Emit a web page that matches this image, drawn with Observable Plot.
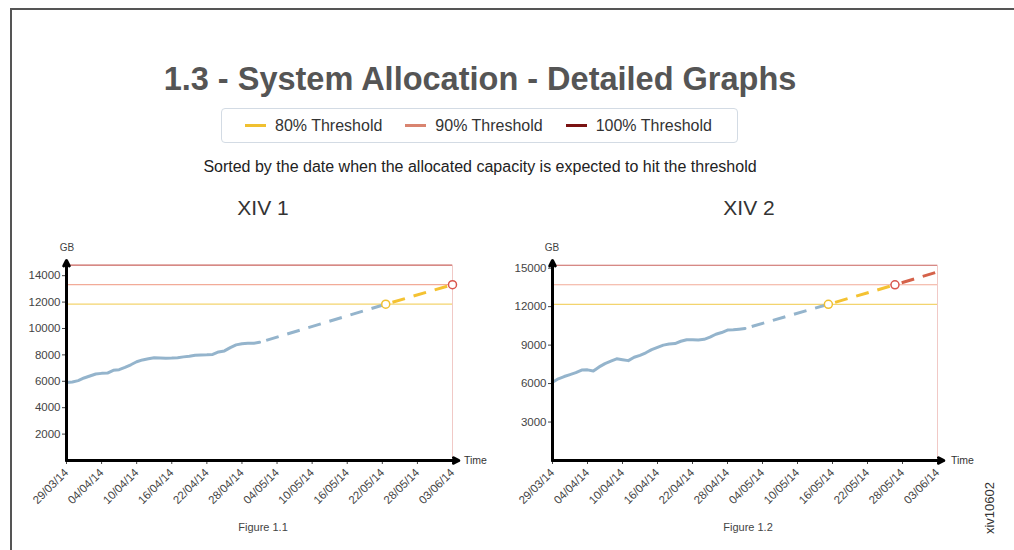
<!DOCTYPE html>
<html><head><meta charset="utf-8">
<script src="https://cdn.jsdelivr.net/npm/d3@7"></script>
<script src="https://cdn.jsdelivr.net/npm/@observablehq/plot@0.6"></script>
<style>
body{margin:0;background:#fff;font-family:"Liberation Sans",Arial,sans-serif;}
#page{position:relative;width:1014px;height:550px;overflow:hidden;background:#fff;}
.abs{position:absolute;white-space:nowrap;line-height:1;}
.c{transform:translateX(-50%);}
#frameTop{position:absolute;left:10px;top:8px;right:0;height:2px;background:#555;}
#frameLeft{position:absolute;left:10px;top:8px;bottom:0;width:2px;background:#555;}
#title{left:480px;top:63px;font-size:32.5px;font-weight:bold;color:#555;}
#legend{position:absolute;left:221px;top:108px;width:517px;height:35px;border:1px solid #d3dbe4;border-radius:4px;display:flex;align-items:center;padding-left:23px;box-sizing:border-box;gap:23px;}
.item{display:flex;align-items:center;font-size:16px;color:#333;}
.sw{width:21px;height:3px;margin-right:9px;}
#sub{left:480px;top:159px;font-size:16px;color:#222;}
.ct{font-size:21px;color:#333;top:197px;}
.fig{font-size:11px;color:#444;top:522px;}
.gb{font-size:10px;color:#444;top:243px;}
.time{font-size:10.5px;color:#333;top:455px;}
#code{left:989px;top:508px;font-size:13px;color:#333;transform:translate(-50%,-50%) rotate(-90deg);}
.chart{position:absolute;top:230px;}
</style></head><body>
<div id="page">
  <div id="frameTop"></div><div id="frameLeft"></div>
  <div id="title" class="abs c">1.3 - System Allocation - Detailed Graphs</div>
  <div id="legend"></div>
  <div id="sub" class="abs c">Sorted by the date when the allocated capacity is expected to hit the threshold</div>
  <div id="t1" class="abs c ct"></div>
  <div id="t2" class="abs c ct"></div>
  <div id="f1" class="abs c fig"></div>
  <div id="f2" class="abs c fig"></div>
  <div class="abs c gb" style="left:67px">GB</div>
  <div class="abs c gb" style="left:552px">GB</div>
  <div class="abs time" style="left:464px">Time</div>
  <div class="abs time" style="left:951px">Time</div>
  <div id="code" class="abs">xiv10602</div>
  <div id="chart1" class="chart" style="left:0px"></div>
  <div id="chart2" class="chart" style="left:490px"></div>
</div>
<script>
// ---------- data ----------
const chartTitles = ["XIV 1", "XIV 2"];
const figureLabels = ["Figure 1.1", "Figure 1.2"];
const thresholdLabels = ["80% Threshold", "90% Threshold", "100% Threshold"];
const thresholdShares = [0.8, 0.9, 1.0];
const legendColors = ["#f0c030", "#d98470", "#7a1212"];
const thresholdLineColors = ["#f3d46e", "#f2ab98", "#c9625c"];
const forecastColors = ["#94b4cc", "#f4c232", "#d5624a"];
const markerColors = ["#f0c030", "#d9574e"];
const tickLabels = ["29/03/14","04/04/14","10/04/14","16/04/14","22/04/14","28/04/14","04/05/14","10/05/14","16/05/14","22/05/14","28/05/14","03/06/14"];
const actualStart = "2014-03-29";

const xiv1Capacity = 14800;
const xiv1YTicks = [2000, 4000, 6000, 8000, 10000, 12000, 14000];
const xiv1YMax = 15150;
const xiv1Values = [5900, 5950, 6050, 6250, 6400, 6550, 6600, 6620, 6830, 6880, 7050, 7250, 7480, 7620, 7700, 7780, 7770, 7750, 7760, 7790, 7850, 7900, 7970, 8000, 8010, 8030, 8220, 8300, 8550, 8760, 8850, 8880, 8880, 8950];
const xiv1ForecastDates = ["2014-05-01", "2014-05-22T14:00Z", "2014-06-03"];
const xiv1ForecastValues = [8950, 11840, 13320];

const xiv2Capacity = 15230;
const xiv2YTicks = [3000, 6000, 9000, 12000, 15000];
const xiv2YMax = 15600;
const xiv2Values = [6100, 6370, 6550, 6700, 6850, 7050, 7070, 6980, 7300, 7560, 7750, 7930, 7860, 7790, 8050, 8200, 8400, 8650, 8830, 9000, 9080, 9120, 9300, 9420, 9410, 9400, 9450, 9620, 9850, 9980, 10170, 10190, 10240, 10300];
const xiv2ForecastDates = ["2014-05-01", "2014-05-15T07:00Z", "2014-05-26T17:00Z", "2014-06-02T17:00Z"];
const xiv2ForecastValues = [10300, 12184, 13707, 14670];

// ---------- text ----------
document.getElementById("t1").textContent = chartTitles[0];
document.getElementById("t2").textContent = chartTitles[1];
document.getElementById("t1").style.left = "263px";
document.getElementById("t2").style.left = "749px";
document.getElementById("f1").textContent = figureLabels[0];
document.getElementById("f2").textContent = figureLabels[1];
document.getElementById("f1").style.left = "263px";
document.getElementById("f2").style.left = "748px";
const legend = document.getElementById("legend");
thresholdLabels.forEach((lab, i) => {
  const it = document.createElement("div"); it.className = "item";
  const sw = document.createElement("div"); sw.className = "sw"; sw.style.background = legendColors[i];
  const tx = document.createElement("span"); tx.textContent = lab;
  it.appendChild(sw); it.appendChild(tx); legend.appendChild(it);
});

// ---------- charts ----------
const parseTick = d3.utcParse("%d/%m/%y");
const tickDates = tickLabels.map(parseTick);
const x0 = tickDates[0], xEnd = tickDates[tickDates.length - 1];
const xArrowEnd = d3.utcHour.offset(xEnd, 26);

function makeChart({values, fDates, fValues, capacity, yTicks, yMax, width, marginLeft, marginRight}) {
  const start = new Date(actualStart);
  const actual = values.map((v, i) => ({date: d3.utcDay.offset(start, i), value: v}));
  const fPts = fDates.map((d, i) => ({date: new Date(d), value: fValues[i]}));
  const segs = d3.pairs(fPts).map(([a, b], i) => ({a, b, color: forecastColors[i]}));
  const markers = fPts.slice(1, 3).map((p, i) => ({...p, color: markerColors[i]}));
  const thresholds = thresholdShares.map((s, i) => ({value: capacity * s, color: thresholdLineColors[i]}));
  return Plot.plot({
    width, height: 320, marginLeft, marginRight, marginTop: 30, marginBottom: 90,
    style: {fontFamily: "'Liberation Sans', Arial, sans-serif", background: "transparent"},
    x: {type: "utc", domain: [x0, xEnd]},
    y: {domain: [0, yMax]},
    color: {type: "identity"},
    marks: [
      Plot.ruleY(thresholds, {y: "value", x1: x0, x2: xEnd, stroke: "color", strokeWidth: 1.2}),
      Plot.ruleX([xEnd], {y1: 0, y2: capacity, stroke: "#f1c9c6", strokeWidth: 1}),
      Plot.line(actual, {x: "date", y: "value", stroke: forecastColors[0], strokeWidth: 3}),
      Plot.link(segs, {x1: d => d.a.date, y1: d => d.a.value, x2: d => d.b.date, y2: d => d.b.value,
        stroke: "color", strokeWidth: 3, strokeDasharray: "13,9", strokeDashoffset: 15}),
      Plot.dot(markers, {x: "date", y: "value", r: 4, stroke: "color", fill: "white", strokeWidth: 1.5}),
      Plot.axisX(tickDates, {tickFormat: d3.utcFormat("%d/%m/%y"), tickRotate: -45, tickSize: 4, tickPadding: 6, fontSize: 11.5, color: "#444", label: null}),
      Plot.axisY(yTicks, {tickFormat: d => String(d), tickSize: 4, tickPadding: 2, fontSize: 11.5, color: "#444", label: null}),
      Plot.arrow([0], {x1: x0, y1: 0, x2: x0, y2: yMax, stroke: "black", strokeWidth: 3, headLength: 3, headAngle: 55}),
      Plot.arrow([0], {x1: x0, y1: 0, x2: xArrowEnd, y2: 0, stroke: "black", strokeWidth: 3, headLength: 3, headAngle: 55})
    ]
  });
}

document.getElementById("chart1").appendChild(makeChart({
  values: xiv1Values, fDates: xiv1ForecastDates, fValues: xiv1ForecastValues,
  capacity: xiv1Capacity, yTicks: xiv1YTicks, yMax: xiv1YMax, width: 490, marginLeft: 66, marginRight: 38
}));
document.getElementById("chart2").appendChild(makeChart({
  values: xiv2Values, fDates: xiv2ForecastDates, fValues: xiv2ForecastValues,
  capacity: xiv2Capacity, yTicks: xiv2YTicks, yMax: xiv2YMax, width: 524, marginLeft: 62, marginRight: 77
}));
</script>
</body></html>
